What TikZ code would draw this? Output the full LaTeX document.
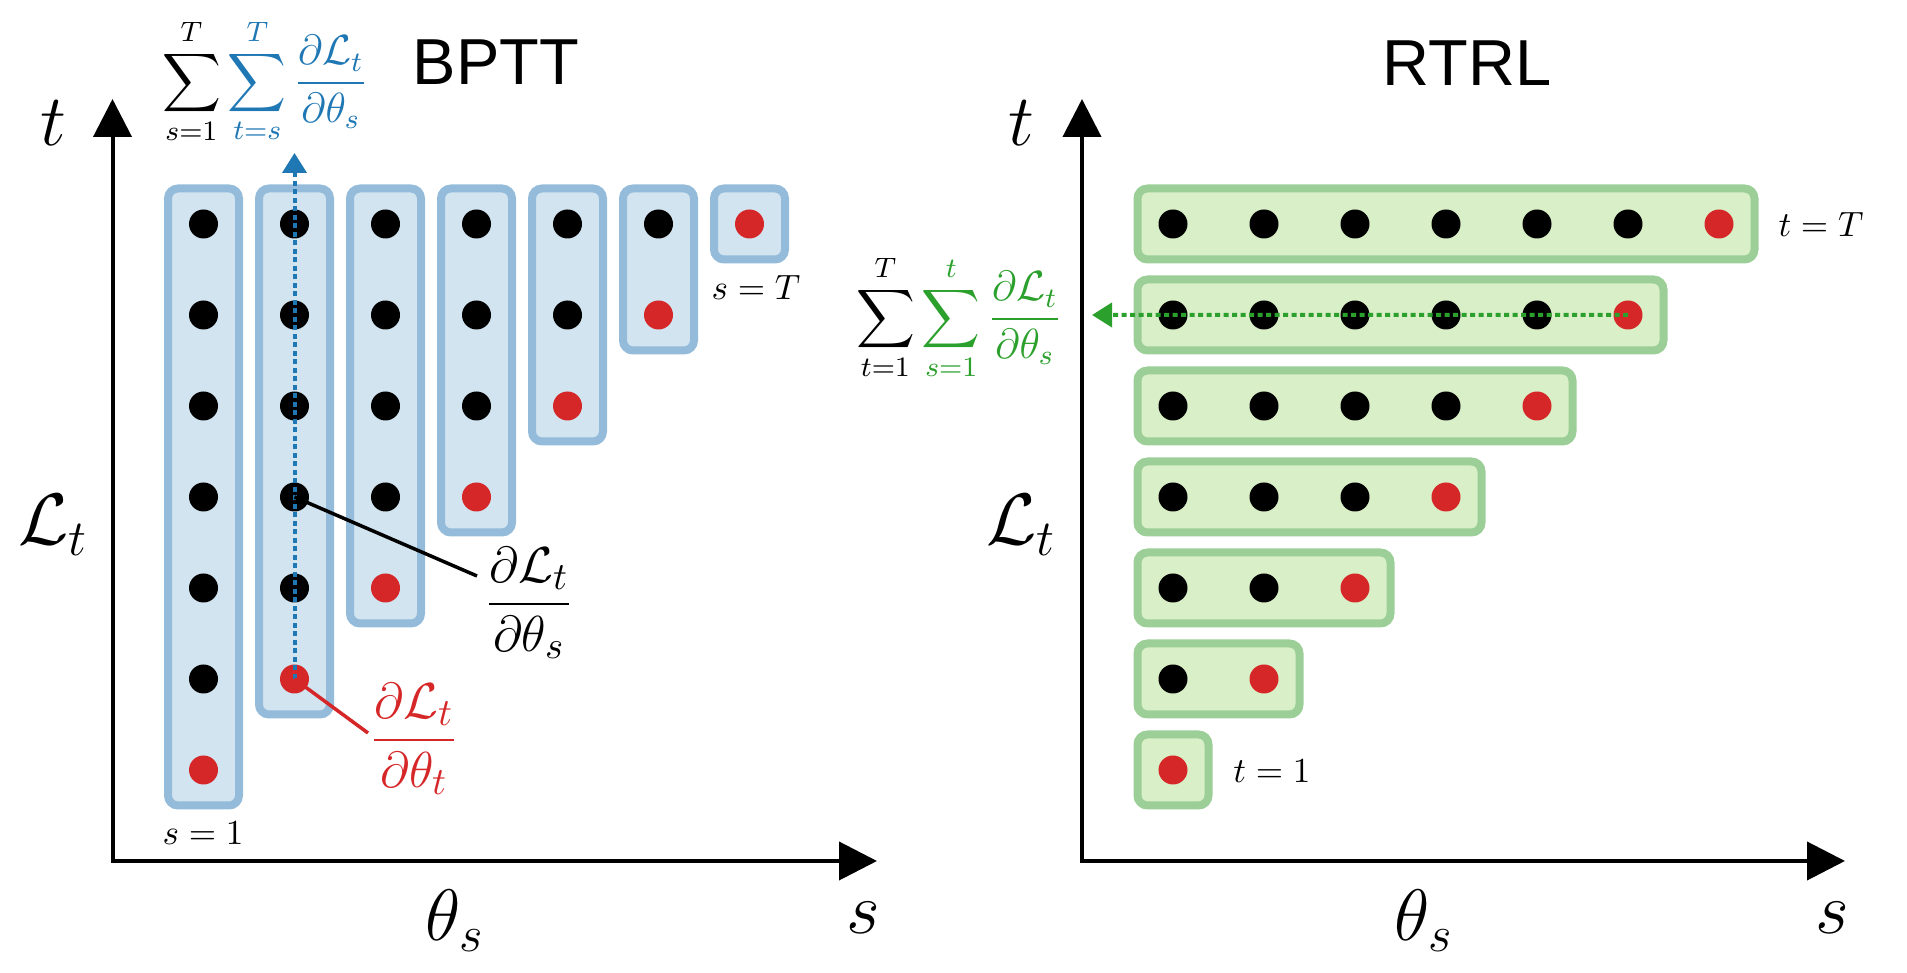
\documentclass[tikz,border=0pt]{standalone}
\usepackage{amsmath, amssymb}
\usepackage{fontspec}
\usepackage{tikz}
\usetikzlibrary{arrows.meta, positioning, calc}
\newfontfamily\titlefont{Liberation Sans}
\definecolor{tabblue}{RGB}{31, 119, 180}
\definecolor{tabgreen}{RGB}{44, 160, 44}
\definecolor{tabred}{RGB}{214, 39, 40}
\definecolor{edgeblue}{RGB}{148, 188, 218}
\definecolor{fillblue}{RGB}{210, 228, 240}
\definecolor{edgegreen}{RGB}{156, 207, 152}
\definecolor{fillgreen}{RGB}{217, 239, 199}
\newcommand{\axlblsize}{\fontsize{21.5pt}{25pt}\selectfont}
\newcommand{\sumsize}{\fontsize{11.6pt}{14pt}\selectfont}
\newcommand{\fraclblsize}{\fontsize{15pt}{18pt}\selectfont}
\newcommand{\tinylblsize}{\fontsize{9.7pt}{12pt}\selectfont}

\begin{document}
\begin{tikzpicture}[
  dot/.style={circle, fill=black, inner sep=0pt, minimum size=2.9mm},
  reddot/.style={dot, fill=tabred},
  colbox/.style={draw=edgeblue, fill=fillblue, line width=0.8mm, rounded corners=1mm},
  rowbox/.style={draw=edgegreen, fill=fillgreen, line width=0.8mm, rounded corners=1mm},
  axis/.style={line width=0.4mm, arrows={Triangle[length=3.8mm, width=3.8mm]-Triangle[length=3.8mm, width=3.8mm]}},
  guide/.style={line width=0.4mm, dash pattern=on 0.5mm off 0.35mm, -{Triangle[length=2mm, width=2.4mm]}},
  axlbl/.style={inner sep=0pt, font=\axlblsize},
  tinylbl/.style={inner sep=0pt, font=\tinylblsize},
  title/.style={inner sep=0pt, font=\titlefont\fontsize{18.5pt}{22pt}\selectfont},
]
\useasboundingbox (0,0) rectangle (19.07,9.73);

% ---- BPTT ----
\begin{scope}[shift={(1.125,1.12)}]
  \coordinate (o1) at (0,0);
  \coordinate (ytip1) at (0,7.62);
  \coordinate (xtip1) at (7.645,0);
  \draw[axis] (ytip1) -- (o1) -- (xtip1);
  \foreach \i in {1,...,7} {
    \draw[colbox] (0.91*\i-0.355,0.91*\i-0.355) rectangle (0.91*\i+0.355,6.725);
  }
  \foreach \i in {1,...,7} {
    \foreach \j in {\i,...,7} {
      \ifnum\j=\i
        \node[reddot] (b-\i-\j) at (0.91*\i,0.91*\j) {};
      \else
        \node[dot] (b-\i-\j) at (0.91*\i,0.91*\j) {};
      \fi
    }
  }
  \coordinate (topB) at (1.82,7.08);
  \draw[guide, draw=tabblue] (b-2-2.center) -- (topB);
\end{scope}

\node[axlbl] (tB) at (0.53,8.50) {$t$};
\node[axlbl] (lossB) at (0.53,4.48) {$\mathcal{L}_t$};
\node[axlbl] (thetaB) at (4.55,0.52) {$\theta_s$};
\node[axlbl] (sB) at (8.63,0.55) {$s$};
\node[title] (bptt) at (4.96,9.11) {BPTT};
\node[inner sep=0pt, font=\sumsize] (sumB) at (2.65,8.915)
  {$\displaystyle\sum_{s=1}^{T}\color{tabblue}\sum_{t=s}^{T}\frac{\partial\mathcal{L}_t}{\partial\theta_s}$};
\node[tinylbl] (sone) at (2.03,1.40) {$s=1$};
\node[tinylbl] (sT) at (7.56,6.85) {$s=T$};

% labels of single terms
\node[inner sep=0pt, font=\fraclblsize] (dS) at (5.29,3.70) {$\dfrac{\partial\mathcal{L}_t}{\partial\theta_s}$};
\node[inner sep=0pt, font=\fraclblsize, text=tabred] (dT) at (4.14,2.34) {$\dfrac{\partial\mathcal{L}_t}{\partial\theta_t}$};
\coordinate (endS) at (4.77,3.97);
\coordinate (endT) at (3.68,2.40);
\draw[line width=0.35mm] (b-2-4.center) -- (endS);
\draw[line width=0.35mm, tabred] (b-2-2.center) -- (endT);

% ---- RTRL ----
\begin{scope}[shift={(10.82,1.12)}]
  \coordinate (o2) at (0,0);
  \coordinate (ytip2) at (0,7.62);
  \coordinate (xtip2) at (7.63,0);
  \draw[axis] (ytip2) -- (o2) -- (xtip2);
  \foreach \j in {1,...,7} {
    \draw[rowbox] (0.555,0.91*\j-0.355) rectangle (0.91*\j+0.355,0.91*\j+0.355);
  }
  \foreach \j in {1,...,7} {
    \foreach \i in {1,...,\j} {
      \ifnum\i=\j
        \node[reddot] (r-\i-\j) at (0.91*\i,0.91*\j) {};
      \else
        \node[dot] (r-\i-\j) at (0.91*\i,0.91*\j) {};
      \fi
    }
  }
  \coordinate (leftR) at (0.10,5.46);
  \draw[guide, draw=tabgreen] (r-6-6.center) -- (leftR);
\end{scope}

\node[axlbl] (tR) at (10.21,8.50) {$t$};
\node[axlbl] (lossR) at (10.21,4.48) {$\mathcal{L}_t$};
\node[axlbl] (thetaR) at (14.24,0.52) {$\theta_s$};
\node[axlbl] (sR) at (18.32,0.55) {$s$};
\node[title] (rtrl) at (14.67,9.10) {RTRL};
\node[inner sep=0pt, font=\sumsize] (sumR) at (9.59,6.555)
  {$\displaystyle\sum_{t=1}^{T}\color{tabgreen}\sum_{s=1}^{t}\frac{\partial\mathcal{L}_t}{\partial\theta_s}$};
\node[tinylbl] (tone) at (12.72,2.02) {$t=1$};
\node[tinylbl] (tT) at (18.21,7.48) {$t=T$};
\end{tikzpicture}
\end{document}
